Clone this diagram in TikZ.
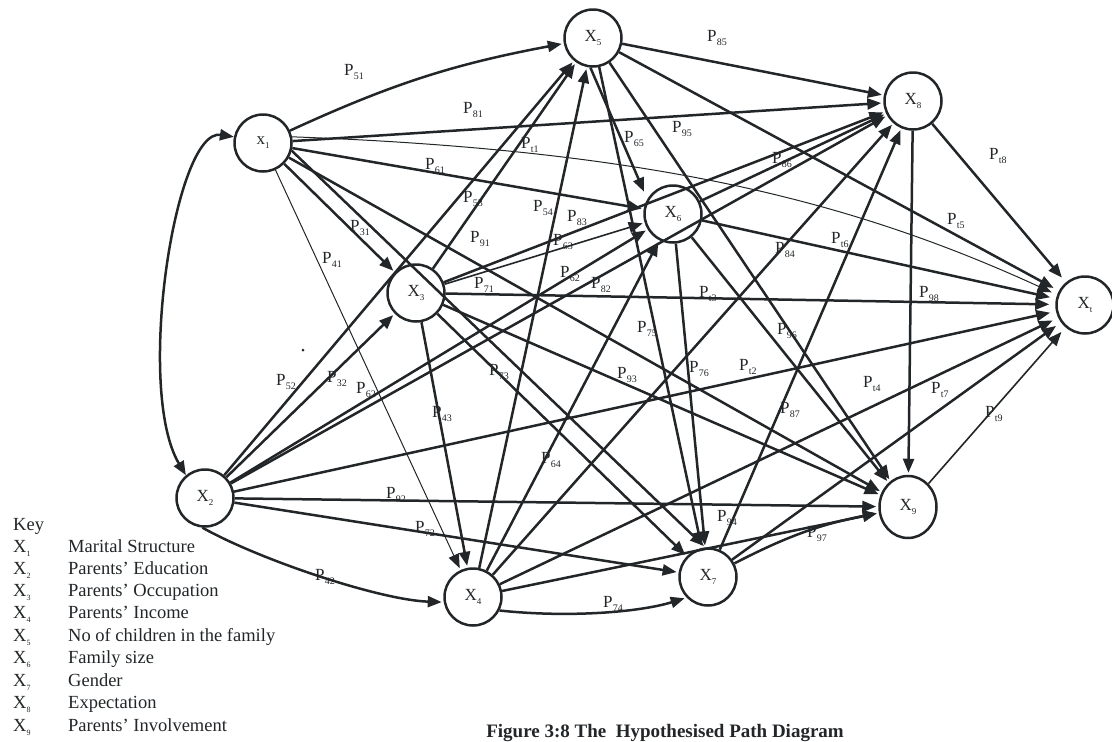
\documentclass[tikz,border=0pt]{standalone}
\usepackage{fontspec}
\setmainfont{Liberation Serif}
\usetikzlibrary{arrows.meta,shapes.geometric}
\definecolor{ink}{HTML}{222628}
% path coefficient label: P with a lowered small index
\newcommand\coef[1]{P\kern0.3pt\raisebox{-4pt}{\fontsize{10}{10}\selectfont #1}}
% variable name with a lowered small index
\newcommand\var[3]{#1\raisebox{-4pt}{\fontsize{#3}{#3}\selectfont #2}}

\begin{document}
\begin{tikzpicture}[x=1pt,y=-1pt,
  vnode/.style={circle,draw=ink,line width=2.5pt,minimum size=57pt,inner sep=0pt,
    font=\fontsize{17}{17}\selectfont,text=ink},
  tipx/.tip={Triangle[length=14pt,width=11pt]},
  link/.style={draw=ink,line width=2.5pt,-tipx,shorten >=2pt},
  toT/.style={shorten >=6pt},
  fine/.style={line width=1pt},
  mid/.style={line width=1.6pt},
  lab/.style={anchor=base west,inner sep=0pt,font=\fontsize{17}{17}\selectfont,text=ink},
  keyx/.style={anchor=base west,inner sep=0pt,font=\fontsize{18.5}{18.5}\selectfont,text=ink},
  keyt/.style={anchor=base west,inner sep=0pt,font=\fontsize{18.5}{18.5}\selectfont,text=ink}]
\useasboundingbox (0,0) rectangle (1112,742);

% variables
\node[vnode] (X1) at (263,143) {\var{x}{1}{9}};
\node[vnode] (X2) at (205,498) {\var{X}{2}{9}};
\node[vnode] (X3) at (416,293) {\var{X}{3}{9}};
\node[vnode] (X4) at (473,597) {\var{X}{4}{9}};
\node[vnode] (X5) at (593,38)  {\var{X}{5}{9}};
\node[vnode] (X6) at (673,214) {\var{X}{6}{9}};
\node[vnode] (X7) at (708,577) {\var{X}{7}{9}};
\node[vnode] (X8) at (913,101) {\var{X}{8}{9}};
\node[vnode,ellipse,minimum width=57pt,minimum height=62pt] (X9) at (908,507) {\var{X}{9}{9}};
\node[vnode] (Xt) at (1085,305) {\var{X}{t}{9}};

% correlation between X1 and X2
\draw[draw=ink,line width=2.5pt,tipx-tipx]
  (X1.168) .. controls (175,128) and (135,390) .. (X2.130);
\fill[ink] (303,350) circle (1.5pt);

% paths from X1
\draw[link] (X1) to[bend left=7] (X5);
\draw[link] (X1) -- (X8);
\draw[link,fine,toT] (X1.12) .. controls (650,150) and (850,200) .. (Xt.160);
\draw[link] (X1) -- (X6);
\draw[link] (X1) -- (X3);
\draw[link,fine] (X1) -- (X4);
\draw[link] (X1.-15) -- (X7.95);
\draw[link] (X1) -- (X9);

% paths from X2
\draw[link] (X2) -- (X5);
\draw[link] (X2) -- (X3);
\draw[link] (X2) -- (X6);
\draw[link] (X2) -- (X8);
\draw[link,toT] (X2) -- (Xt);
\draw[link] (X2) -- (X9);
\draw[link] (X2) -- (X7);
\draw[link] (X2.-95) .. controls (260,560) and (380,600) .. (X4.190);

% paths from X3
\draw[link] (X3) -- (X5);
\draw[link,mid] (X3) -- (X6);
\draw[link] (X3) -- (X8);
\draw[link,toT] (X3) -- (Xt);
\draw[link] (X3) -- (X7);
\draw[link] (X3) -- (X9);
\draw[link] (X3) -- (X4);

% paths from X4
\draw[link] (X4) -- (X5);
\draw[link] (X4) -- (X6);
\draw[link] (X4) -- (X8);
\draw[link,toT] (X4) -- (Xt);
\draw[link] (X4) -- (X9);
\draw[link] (X4.-27) .. controls (570,618) and (640,612) .. (X7.224);

% paths from X5
\draw[link] (X5) -- (X8);
\draw[link,shorten >=8pt] (X5.-95) -- (X6.150);
\draw[link] (X5) -- (X9);
\draw[link,toT] (X5) -- (Xt);
\draw[link] (X5) -- (X7);

% paths from X6
\draw[link] (X6) -- (X8);
\draw[link,toT] (X6) -- (Xt);
\draw[link] (X6) -- (X9);
\draw[link] (X6) -- (X7);

% paths from X7
\draw[link] (X7) -- (X8);
\draw[link,toT] (X7) -- (Xt);
\draw[link] (X7) to[bend left=8] (X9);

% paths from X8 and X9
\draw[link,toT] (X8) -- (Xt);
\draw[link] (X8) -- (X9);
\draw[link,mid,toT] (X9) -- (Xt);

% coefficient labels
\node[lab] (l51) at (344,75)  {\coef{51}};
\node[lab] (l81) at (463,113) {\coef{81}};
\node[lab] (lt1) at (521,148) {\coef{t1}};
\node[lab] (l61) at (425,169) {\coef{61}};
\node[lab] (l53) at (463,202) {\coef{53}};
\node[lab] (l54) at (533,211) {\coef{54}};
\node[lab] (l83) at (567,221) {\coef{83}};
\node[lab] (l31) at (350,231) {\coef{31}};
\node[lab] (l91) at (470,242) {\coef{91}};
\node[lab] (l63) at (553,245) {\coef{63}};
\node[lab] (l41) at (322,263) {\coef{41}};
\node[lab] (l65) at (624,142) {\coef{65}};
\node[lab] (l62a) at (560,277) {\coef{62}};
\node[lab] (l71) at (474,288) {\coef{71}};
\node[lab] (l82) at (591,288) {\coef{82}};
\node[lab] (l85) at (707,41)  {\coef{85}};
\node[lab] (l95) at (672,132) {\coef{95}};
\node[lab] (l86) at (772,163) {\coef{86}};
\node[lab] (lt8) at (989,159) {\coef{t8}};
\node[lab] (lt5) at (947,224) {\coef{t5}};
\node[lab] (lt6) at (831,243) {\coef{t6}};
\node[lab] (l84) at (775,253) {\coef{84}};
\node[lab] (l98) at (919,297) {\coef{98}};
\node[lab] (lt3) at (699,297) {\coef{t3}};
\node[lab] (l75) at (637,332) {\coef{75}};
\node[lab] (l96) at (777,334) {\coef{96}};
\node[lab] (l76) at (689,372) {\coef{76}};
\node[lab] (lt2) at (739,370) {\coef{t2}};
\node[lab] (l93) at (617,378) {\coef{93}};
\node[lab] (lt4) at (863,387) {\coef{t4}};
\node[lab] (lt7) at (931,393) {\coef{t7}};
\node[lab] (l87) at (780,413) {\coef{87}};
\node[lab] (lt9) at (985,417) {\coef{t9}};
\node[lab] (l52) at (276,385) {\coef{52}};
\node[lab] (l32) at (327,382) {\coef{32}};
\node[lab] (l62b) at (356,393) {\coef{62}};
\node[lab] (l43) at (432,417) {\coef{43}};
\node[lab] (l73) at (489,375) {\coef{73}};
\node[lab] (l64) at (541,463) {\coef{64}};
\node[lab] (l92) at (386,498) {\coef{92}};
\node[lab] (l72) at (415,532) {\coef{72}};
\node[lab] (l94) at (717,521) {\coef{94}};
\node[lab] (l97) at (807,537) {\coef{97}};
\node[lab] (l74) at (603,607) {\coef{74}};
\node[lab] (l42) at (315,580) {\coef{42}};

% key
\node[keyt] (key) at (13,530) {Key};
\node[keyx] (k1) at (13,552) {\var{X}{1}{8}};
\node[keyx] (k2) at (13,574) {\var{X}{2}{8}};
\node[keyx] (k3) at (13,596) {\var{X}{3}{8}};
\node[keyx] (k4) at (13,618) {\var{X}{4}{8}};
\node[keyx] (k5) at (13,641) {\var{X}{5}{8}};
\node[keyx] (k6) at (13,663) {\var{X}{6}{8}};
\node[keyx] (k7) at (13,686) {\var{X}{7}{8}};
\node[keyx] (k8) at (13,708) {\var{X}{8}{8}};
\node[keyx] (k9) at (13,731) {\var{X}{9}{8}};
\node[keyt] (d1) at (68,552) {Marital Structure};
\node[keyt] (d2) at (68,574) {Parents’ Education};
\node[keyt] (d3) at (68,596) {Parents’ Occupation};
\node[keyt] (d4) at (68,618) {Parents’ Income};
\node[keyt] (d5) at (68,641) {No of children in the family};
\node[keyt] (d6) at (68,663) {Family size};
\node[keyt] (d7) at (68,686) {Gender};
\node[keyt] (d8) at (68,708) {Expectation};
\node[keyt] (d9) at (68,731) {Parents’ Involvement};

% caption
\node[anchor=base east,inner sep=0pt,font=\bfseries\fontsize{19}{19}\selectfont,text=ink] (cap)
  at (844,737) {Figure 3:8 The\ \ Hypothesised Path Diagram};
\end{tikzpicture}
\end{document}
